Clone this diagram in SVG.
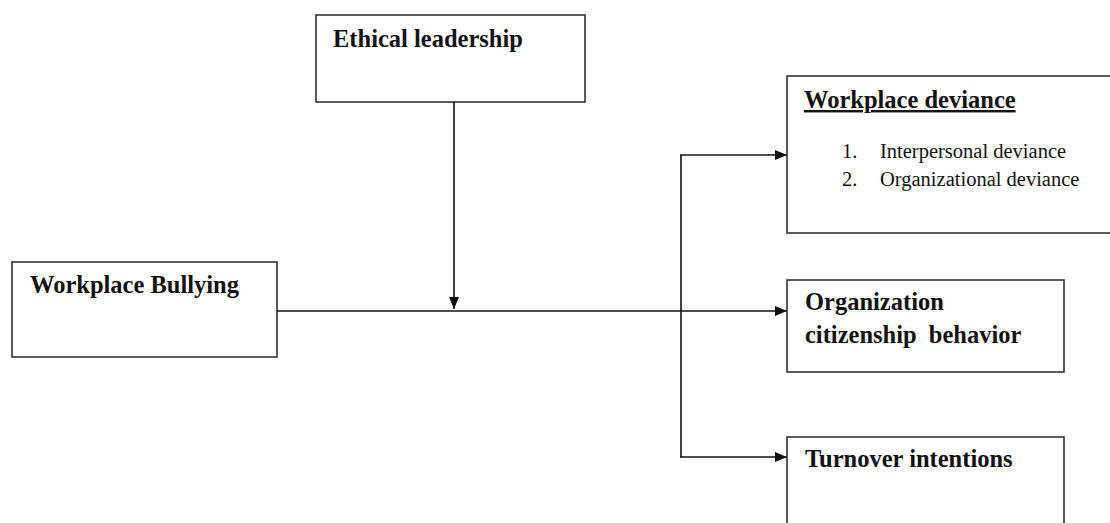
<svg xmlns="http://www.w3.org/2000/svg" width="1110" height="523" viewBox="0 0 1110 523">
<style>
.box{fill:#fff;stroke:#333;stroke-width:1.6}
.t{font-family:"Liberation Serif","Times New Roman",serif;font-weight:bold;font-size:24.5px;fill:#111}
.s{font-family:"Liberation Serif","Times New Roman",serif;font-size:20.5px;fill:#111}
.c{fill:none;stroke:#111;stroke-width:1.6}
</style>
<defs>
<marker id="a" markerWidth="12" markerHeight="10" refX="12" refY="5" orient="auto" markerUnits="userSpaceOnUse">
<path d="M0,0 L12,5 L0,10 Z" fill="#111"/>
</marker>
</defs>
<g id="ethical">
<rect class="box" x="316" y="15" width="269" height="87"/>
<text class="t" x="333" y="47">Ethical leadership</text>
</g>
<g id="deviance">
<rect class="box" x="787" y="76" width="330" height="157"/>
<text class="t" x="804" y="108" text-decoration="underline">Workplace deviance</text>
<text class="s" x="842" y="158">1.</text>
<text class="s" x="880" y="158">Interpersonal deviance</text>
<text class="s" x="842" y="186">2.</text>
<text class="s" x="880" y="186">Organizational deviance</text>
</g>
<g id="bullying">
<rect class="box" x="12" y="262" width="265" height="95"/>
<text class="t" x="30" y="293">Workplace Bullying</text>
</g>
<g id="ocb">
<rect class="box" x="787" y="280" width="277" height="92"/>
<text class="t" x="805" y="310">Organization</text>
<text class="t" x="805" y="343" style="white-space:pre" xml:space="preserve">citizenship  behavior</text>
</g>
<g id="turnover">
<rect class="box" x="787" y="437" width="277" height="100"/>
<text class="t" x="805" y="467">Turnover intentions</text>
</g>
<g id="connectors">
<line class="c" x1="454" y1="102" x2="454" y2="309" marker-end="url(#a)"/>
<line class="c" x1="277" y1="311" x2="787" y2="311" marker-end="url(#a)"/>
<line class="c" x1="681" y1="155" x2="681" y2="457"/>
<line class="c" x1="680" y1="155" x2="787" y2="155" marker-end="url(#a)"/>
<line class="c" x1="680" y1="457" x2="787" y2="457" marker-end="url(#a)"/>
</g>
</svg>
